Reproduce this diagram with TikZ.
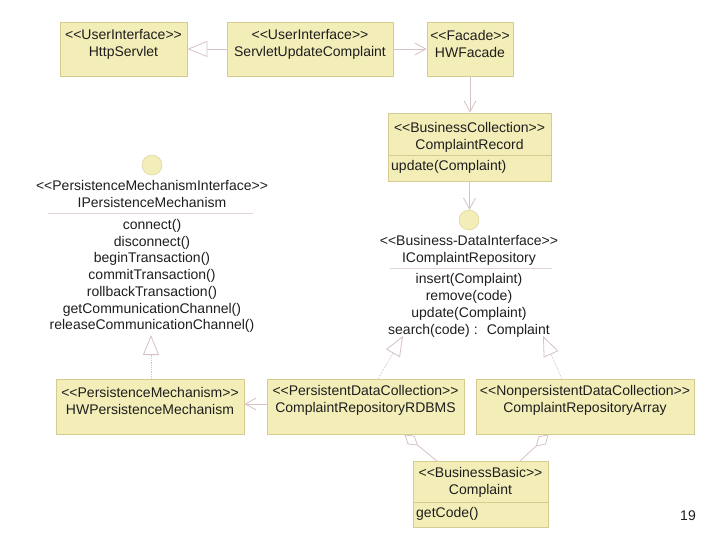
\documentclass[tikz,border=0pt]{standalone}
\usepackage{fontspec}
\setmainfont{Liberation Sans}
\usetikzlibrary{arrows.meta,shapes,calc}
\definecolor{clsfill}{RGB}{243,238,184}
\definecolor{clsline}{RGB}{214,204,146}
\definecolor{linkcol}{RGB}{214,194,194}
\definecolor{inkcol}{RGB}{30,30,30}
\newcommand{\stereo}[1]{<{}<#1>{}>}
% open aggregation diamond at #1, line coming from #2
\newcommand{\aggrlink}[2]{%
  \draw [link] (#2) -- ($(#1)!16pt!(#2)$);
  \draw [link, fill=white] (#1) -- ($(#1)!9.4pt!32:(#2)$) -- ($(#1)!16pt!(#2)$) -- ($(#1)!9.4pt!-32:(#2)$) -- cycle;}
\tikzset{
  umlfont/.style={font=\fontsize{14}{17}\selectfont, text=inkcol},
  cls/.style={draw=clsline, fill=clsfill, line width=0.8pt, inner sep=0pt},
  txt/.style={umlfont, align=center, inner sep=0pt},
  ball/.style={circle, draw=clsline, fill=clsfill, minimum size=20pt, inner sep=0pt},
  link/.style={draw=linkcol, line width=0.8pt},
  gen/.style={link, -{Triangle[open, length=20pt, width=16pt, fill=white]}},
  real/.style={gen, densely dotted},
  dep/.style={link, -{Straight Barb[length=11pt, width=12pt]}}
}
\begin{document}
\begin{tikzpicture}[x=1pt,y=-1pt]
\useasboundingbox (0,0) rectangle (720,540);
% top row
\node [cls, minimum width=127pt, minimum height=54pt] (httpservlet) at (123.5,49) {};
\node [txt] (httpservlet-t) at (123.5,44) {\stereo{UserInterface}\\HttpServlet};
\node [cls, minimum width=166pt, minimum height=54pt] (servlet) at (310,49) {};
\node [txt] (servlet-t) at (310,44) {\stereo{UserInterface}\\ServletUpdateComplaint};
\node [cls, minimum width=86pt, minimum height=54pt] (hwfacade) at (470,49) {};
\node [txt] (hwfacade-t) at (470,44) {\stereo{Facade}\\HWFacade};
\node [cls, minimum width=163pt, minimum height=68pt] (record) at (469.5,147) {};
\node [txt] (record-t) at (469.5,137) {\stereo{BusinessCollection}\\ComplaintRecord};
\draw [clsline, line width=0.8pt] (record.west |- 0,155) -- (record.east |- 0,155);
\node [txt, anchor=west] (record-op) at (391,167) {update(Complaint)};
% interfaces
\node [ball] (repoball) at (469,220) {};
\node [txt] (repo-t) at (469,250.5) {\stereo{Business-DataInterface}\\IComplaintRepository};
\draw [linkcol!70, line width=0.8pt] (390,268) -- (552,268);
\node [txt] (repo-ops) at (469,305) {insert(Complaint)\\remove(code)\\update(Complaint)\\search(code) : \ Complaint};
\node [ball] (pmball) at (152,165) {};
\node [txt] (pm-t) at (152,194) {\stereo{PersistenceMechanismInterface}\\IPersistenceMechanism};
\draw [linkcol!70, line width=0.8pt] (48,213) -- (253,213);
\node [txt, font=\fontsize{14}{16.7}\selectfont] (pm-ops) at (152,276) {connect()\\disconnect()\\beginTransaction()\\commitTransaction()\\rollbackTransaction()\\getCommunicationChannel()\\releaseCommunicationChannel()};
% bottom rows
\node [cls, minimum width=188pt, minimum height=55pt] (hwpm) at (150,406.5) {};
\node [txt] (hwpm-t) at (150,400.5) {\stereo{PersistenceMechanism}\\HWPersistenceMechanism};
\node [cls, minimum width=197pt, minimum height=55pt] (rdbms) at (365.5,406.5) {};
\node [txt] (rdbms-t) at (365.5,400.5) {\stereo{PersistentDataCollection}\\ComplaintRepositoryRDBMS};
\node [cls, minimum width=218pt, minimum height=55pt] (array) at (585,406.5) {};
\node [txt] (array-t) at (585,400.5) {\stereo{NonpersistentDataCollection}\\ComplaintRepositoryArray};
\node [cls, minimum width=135pt, minimum height=66pt] (complaint) at (480.5,494) {};
\node [txt] (complaint-t) at (480.5,482.5) {\stereo{BusinessBasic}\\Complaint};
\draw [clsline, line width=0.8pt] (complaint.west |- 0,502) -- (complaint.east |- 0,502);
\node [txt, anchor=west] (complaint-op) at (416,514) {getCode()};
\node [txt] (pagenum) at (688,516) {19};
% connectors
\coordinate (pmtip) at (151,335);
\coordinate (repotipl) at (403,336);
\coordinate (repotipr) at (543,336);
\coordinate (rdbmsup) at (378,379);
\coordinate (arrayup) at (562,379);
\coordinate (rdbmsdown) at (405,435);
\coordinate (arraydown) at (548,435);
\coordinate (complaintl) at (437,461);
\coordinate (complaintr) at (520,461);
\draw [gen] (servlet.west) -- (httpservlet.east);
\draw [dep] (servlet.east) -- (hwfacade.west);
\draw [dep] (hwfacade.south) -- (hwfacade.south |- record.north);
\draw [dep] (record.south) -- (record.south |- repoball.north);
\draw [real] (hwpm.north -| pmtip) -- (pmtip);
\draw [real] (rdbmsup) -- (repotipl);
\draw [real] (arrayup) -- (repotipr);
\draw [dep] ([yshift=2.5pt]rdbms.west) -- ([yshift=2.5pt]hwpm.east);
\aggrlink{rdbmsdown}{complaintl}
\aggrlink{arraydown}{complaintr}
\end{tikzpicture}
\end{document}
